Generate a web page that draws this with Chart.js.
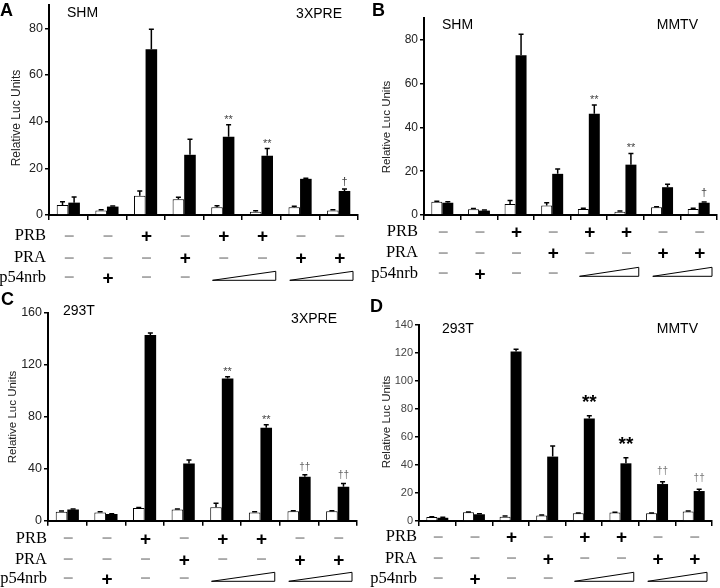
<!DOCTYPE html>
<html>
<head>
<meta charset="utf-8">
<script src="https://cdn.jsdelivr.net/npm/chart.js@4"></script>
<style>
  body { margin: 0; background: #fff; width: 720px; height: 588px; position: relative; overflow: hidden; }
  canvas { position: absolute; }
</style>
</head>
<body>
<canvas id="panelA" width="360" height="290" style="left:0;top:0"></canvas>
<canvas id="panelB" width="360" height="290" style="left:360px;top:0"></canvas>
<canvas id="panelC" width="360" height="298" style="left:0;top:290px"></canvas>
<canvas id="panelD" width="360" height="298" style="left:360px;top:290px"></canvas>
<script>
// ── DATA
const groups = ["1", "2", "3", "4", "5", "6", "7", "8"];
const prbRow = ["-", "-", "+", "-", "+", "+", "-", "-"];
const praRow = ["-", "-", "-", "+", "-", "-", "+", "+"];
const p54Row = ["-", "+", "-", "-", "", "", "", ""];
const p54Wedges = [[4, 5], [6, 7]];

const ticksAB = [0, 20, 40, 60, 80];
const ticksC = [0, 40, 80, 120, 160];
const ticksD = [0, 20, 40, 60, 80, 100, 120, 140];

const whiteA = [4.3, 1.9, 8.2, 6.7, 3.3, 1.4, 3.3, 1.9];
const whiteErrA = [1.4, 0.4, 2.1, 0.9, 0.7, 0.4, 0.5, 0.3];
const blackA = [5.3, 3.6, 71, 25.8, 33.5, 25.4, 15.5, 10.3];
const blackErrA = [2.4, 0.3, 8.6, 6.7, 5.2, 3.1, 0.3, 0.8];
const marksA = ["", "", "", "", "**", "**", "", "†"];

const whiteB = [6.1, 2.6, 5.0, 4.3, 2.75, 1.5, 3.5, 2.75];
const whiteErrB = [0.2, 0.4, 1.6, 1.3, 0.3, 0.3, 0.3, 0.3];
const blackB = [5.6, 2.0, 73, 18.8, 46.2, 23, 12.7, 5.6];
const blackErrB = [0.4, 0.3, 9.6, 2.2, 4.1, 5.1, 1.4, 0.3];
const marksB = ["", "", "", "", "**", "**", "", "†"];

const whiteC = [6.9, 6.4, 9.8, 8.7, 10.3, 6.4, 7.3, 7.3];
const whiteErrC = [0.5, 0.5, 0.3, 0.3, 3.1, 0.5, 0.4, 0.4];
const blackC = [8.7, 5.1, 143, 44, 109.5, 71.6, 33.9, 26.2];
const blackErrC = [0.3, 0.3, 1.5, 2.7, 1.3, 2.4, 1.5, 2.5];
const marksC = ["", "", "", "", "**", "**", "††", "††"];

const whiteD = [2.8, 6.2, 3.1, 4.0, 5.5, 6.0, 5.5, 6.7];
const whiteErrD = [0.2, 0.2, 0.5, 0.2, 0.2, 0.2, 0.2, 0.5];
const blackD = [2.3, 4.8, 121, 46, 73.3, 41.2, 26.4, 21.4];
const blackErrD = [0.4, 0.3, 1.6, 7.6, 1.9, 4.0, 1.7, 1.2];
const marksD = ["", "", "", "", "**", "**", "††", "††"];

// ── LAYOUT (canvas coords per panel)
const Y_AXIS_W = 40;
const X_AXIS_H = 6;

function panelPlugin(p) {
  return {
    id: "panelExtras",
    afterDatasetsDraw(chart) {
      const ctx = chart.ctx;
      const y = chart.scales.y;
      ctx.save();
      ctx.strokeStyle = "#000";
      ctx.lineWidth = 1.5;
      chart.data.datasets.forEach((ds, di) => {
        const meta = chart.getDatasetMeta(di);
        meta.data.forEach((bar, i) => {
          const top = y.getPixelForValue(ds.data[i] + ds.errors[i]);
          ctx.beginPath();
          ctx.moveTo(bar.x, bar.y);
          ctx.lineTo(bar.x, top);
          ctx.moveTo(bar.x - 2.5, top);
          ctx.lineTo(bar.x + 2.5, top);
          ctx.stroke();
        });
      });
      // significance marks over black bars
      const blackMeta = chart.getDatasetMeta(1);
      const bds = chart.data.datasets[1];
      ctx.textAlign = "center";
      ctx.textBaseline = "alphabetic";
      p.marks.forEach((m, i) => {
        if (!m) return;
        const bar = blackMeta.data[i];
        const top = y.getPixelForValue(bds.data[i] + bds.errors[i]);
        const star = m.includes("*");
        ctx.font = star ? p.starFont : p.daggerFont;
        ctx.fillStyle = star ? p.starColor : p.daggerColor;
        ctx.fillText(m, bar.x, top - (star ? p.starGap : p.daggerGap));
      });
      ctx.restore();
    },
    afterDraw(chart) {
      const ctx = chart.ctx;
      const x = chart.scales.x;
      const base = chart.chartArea.bottom;
      ctx.save();
      // panel letter and headers
      ctx.fillStyle = "#000";
      ctx.textBaseline = "alphabetic";
      ctx.font = "bold 18px Arial, 'Liberation Sans'";
      ctx.textAlign = "left";
      ctx.fillText(p.letter, p.letterPos[0], p.letterPos[1]);
      ctx.font = "14px Arial, 'Liberation Sans'";
      ctx.fillText(p.cell, p.cellPos[0], p.cellPos[1]);
      ctx.textAlign = "right";
      ctx.fillText(p.reporter, p.reporterPos[0], p.reporterPos[1]);
      // y title
      ctx.save();
      ctx.translate(p.titlePos[0], p.titlePos[1]);
      ctx.rotate(-Math.PI / 2);
      ctx.textAlign = "center";
      ctx.textBaseline = "middle";
      ctx.font = p.titleFont;
      ctx.fillStyle = "#222";
      ctx.fillText("Relative Luc Units", 0, 0);
      ctx.restore();
      // condition table
      const rows = [["PRB", prbRow], ["PRA", praRow], ["p54nrb", p54Row]];
      rows.forEach(([name, row], r) => {
        const ry = base + p.rowOffsets[r];
        ctx.textBaseline = "middle";
        ctx.textAlign = "right";
        ctx.font = "16.5px 'Liberation Serif', 'Times New Roman', serif";
        ctx.fillStyle = "#000";
        ctx.fillText(name, p.rowLabelX, ry);
        ctx.textAlign = "center";
        row.forEach((s, i) => {
          const cx = x.getPixelForValue(i);
          if (s === "+") {
            ctx.font = "bold 19px Arial, 'Liberation Sans'";
            ctx.fillStyle = "#000";
            ctx.fillText("+", cx + 1, ry + 1);
          } else if (s === "-") {
            ctx.font = "bold 18px Arial, 'Liberation Sans'";
            ctx.fillStyle = "#a8a8a8";
            ctx.fillText("–", cx + 1, ry);
          }
        });
        if (name === "p54nrb") {
          const half = (x.getPixelForValue(1) - x.getPixelForValue(0)) / 2;
          ctx.strokeStyle = "#000";
          ctx.lineWidth = 1;
          ctx.fillStyle = "#fff";
          p54Wedges.forEach(([a, b]) => {
            const x0 = x.getPixelForValue(a) - half + 9;
            const x1 = x.getPixelForValue(b) + half - 5;
            const yb = ry + 3;
            ctx.beginPath();
            ctx.moveTo(x0, yb);
            ctx.lineTo(x1, yb);
            ctx.lineTo(x1, yb - 9);
            ctx.closePath();
            ctx.fill();
            ctx.stroke();
          });
        }
      });
      ctx.restore();
    }
  };
}

function makePanel(id, p) {
  const canvas = document.getElementById(id);
  const W = canvas.width, H = canvas.height;
  return new Chart(canvas, {
    type: "bar",
    data: {
      labels: groups,
      datasets: [
        { data: p.white, errors: p.whiteErr, backgroundColor: "#fff", borderColor: "#000", borderWidth: 1, borderSkipped: "bottom" },
        { data: p.black, errors: p.blackErr, backgroundColor: "#000", borderColor: "#000", borderWidth: 0 }
      ]
    },
    options: {
      responsive: false,
      animation: false,
      devicePixelRatio: 1,
      categoryPercentage: 0.6,
      barPercentage: 1.0,
      layout: {
        padding: {
          left: p.area.left - Y_AXIS_W,
          right: W - p.area.right,
          top: p.area.top,
          bottom: H - p.area.bottom - X_AXIS_H
        }
      },
      plugins: { legend: { display: false }, tooltip: { enabled: false } },
      scales: {
        x: {
          type: "category",
          ticks: { display: false },
          grid: { offset: true, drawOnChartArea: false, drawTicks: true, tickLength: 5, color: "#000", lineWidth: 1.5 },
          border: { display: true, color: "#000", width: 2 },
          afterFit: (s) => { s.height = X_AXIS_H; s.paddingLeft = 0; s.paddingRight = 0; }
        },
        y: {
          min: 0,
          max: p.max,
          afterBuildTicks: (s) => { s.ticks = p.ticks.map((v) => ({ value: v })); },
          ticks: { font: { family: "Arial, 'Liberation Sans'", size: p.tickSize }, color: p.tickColor, padding: 2 },
          grid: { drawOnChartArea: false, drawTicks: true, tickLength: 4, color: "#000", lineWidth: 1.5 },
          border: { display: true, color: "#000", width: 2 },
          afterFit: (s) => { s.width = Y_AXIS_W; s.paddingTop = 0; s.paddingBottom = 0; }
        }
      }
    },
    plugins: [panelPlugin(p)]
  });
}

makePanel("panelA", {
  white: whiteA, whiteErr: whiteErrA, black: blackA, blackErr: blackErrA, marks: marksA,
  ticks: ticksAB, max: 90, area: { left: 49, right: 358, top: 5, bottom: 215 },
  tickSize: 12.5, tickColor: "#222",
  letter: "A", letterPos: [0, 16], cell: "SHM", cellPos: [67, 17], reporter: "3XPRE", reporterPos: [342, 18],
  titlePos: [17, 118], titleFont: "12px Arial, 'Liberation Sans'",
  rowLabelX: 46, rowOffsets: [21, 42.7, 62.3],
  starFont: "11px Arial", starColor: "#444", starGap: 2, daggerFont: "11px Arial", daggerColor: "#444", daggerGap: 4
});

makePanel("panelB", {
  white: whiteB, whiteErr: whiteErrB, black: blackB, blackErr: blackErrB, marks: marksB,
  ticks: ticksAB, max: 90, area: { left: 64, right: 357, top: 18, bottom: 215 },
  tickSize: 12, tickColor: "#222",
  letter: "B", letterPos: [12, 16], cell: "SHM", cellPos: [82, 29], reporter: "MMTV", reporterPos: [338, 29],
  titlePos: [27, 127], titleFont: "11.5px Arial, 'Liberation Sans'",
  rowLabelX: 58, rowOffsets: [16.7, 37.7, 58.3],
  starFont: "11px Arial", starColor: "#444", starGap: 2, daggerFont: "11px Arial", daggerColor: "#444", daggerGap: 6
});

makePanel("panelC", {
  white: whiteC, whiteErr: whiteErrC, black: blackC, blackErr: blackErrC, marks: marksC,
  ticks: ticksC, max: 160, area: { left: 48, right: 357, top: 23, bottom: 230.7 },
  tickSize: 12.5, tickColor: "#222",
  letter: "C", letterPos: [1, 15], cell: "293T", cellPos: [63, 25], reporter: "3XPRE", reporterPos: [337, 33],
  titlePos: [13, 127], titleFont: "11.5px Arial, 'Liberation Sans'",
  rowLabelX: 47, rowOffsets: [17.6, 38.6, 57.6],
  starFont: "11px Arial", starColor: "#444", starGap: 2, daggerFont: "10px Arial", daggerColor: "#666", daggerGap: 5
});

makePanel("panelD", {
  white: whiteD, whiteErr: whiteErrD, black: blackD, blackErr: blackErrD, marks: marksD,
  ticks: ticksD, max: 140, area: { left: 59, right: 352, top: 35, bottom: 231 },
  tickSize: 11, tickColor: "#444",
  letter: "D", letterPos: [10, 22], cell: "293T", cellPos: [82, 43], reporter: "MMTV", reporterPos: [338, 43],
  titlePos: [27, 132], titleFont: "11.5px Arial, 'Liberation Sans'",
  rowLabelX: 57, rowOffsets: [15.7, 37.3, 57.3],
  starFont: "bold 19px Arial", starColor: "#000", starGap: 8, daggerFont: "10px Arial", daggerColor: "#777", daggerGap: 8
});
</script>
</body>
</html>
